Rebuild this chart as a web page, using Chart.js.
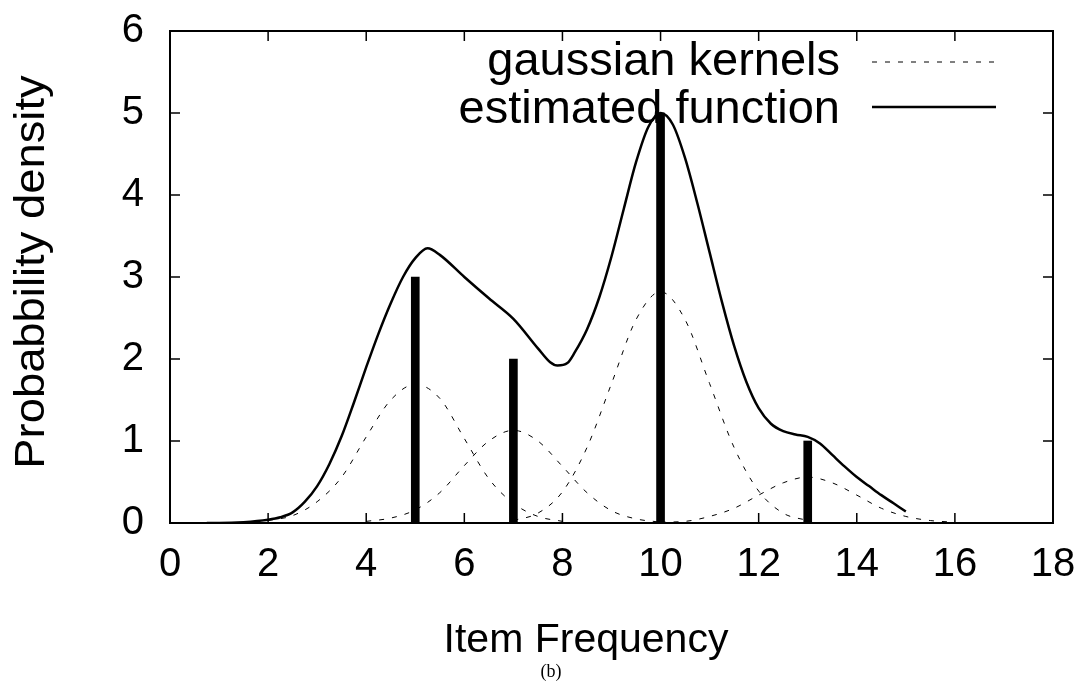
<!DOCTYPE html>
<html>
<head>
<meta charset="utf-8">
<script src="https://cdn.jsdelivr.net/npm/chart.js@4.4.1/dist/chart.umd.min.js"></script>
<style>
  html, body { margin: 0; padding: 0; background: #fff; }
</style>
</head>
<body>
<canvas id="grafico" width="1092" height="684"></canvas>
<script>
// dados
const freqItens = [5, 7, 10, 13];
const contagens = [3, 2, 5, 1];

const ticksX = [0, 2, 4, 6, 8, 10, 12, 14, 16, 18];
const ticksY = [0, 1, 2, 3, 4, 5, 6];

// kernels gaussianos (um por item)
const kernel1X = [2, 2.5, 3, 3.5, 4, 4.5, 5, 5.5, 6, 6.5, 7, 7.5, 8];
const kernel1Y = [0.03, 0.09, 0.26, 0.56, 1.05, 1.50, 1.69, 1.52, 1.03, 0.54, 0.24, 0.08, 0.02];
const kernel2X = [4, 4.5, 5, 5.5, 6, 6.5, 7, 7.5, 8, 8.5, 9, 9.5, 10];
const kernel2Y = [0.02, 0.06, 0.16, 0.37, 0.70, 1.00, 1.13, 1.00, 0.69, 0.37, 0.15, 0.05, 0.01];
const kernel3X = [7, 7.5, 8, 8.5, 9, 9.5, 10, 10.5, 11, 11.5, 12, 12.5, 13];
const kernel3Y = [0.03, 0.12, 0.38, 0.92, 1.70, 2.48, 2.82, 2.48, 1.70, 0.92, 0.39, 0.12, 0.03];
const kernel4X = [10, 10.5, 11, 11.5, 12, 12.5, 13, 13.5, 14, 14.5, 15, 15.5, 16];
const kernel4Y = [0.01, 0.02, 0.08, 0.18, 0.34, 0.49, 0.56, 0.49, 0.34, 0.18, 0.08, 0.03, 0.01];

// função estimada
const estimadaX = [0.75, 1, 1.5, 2, 2.25, 2.5, 2.75, 3, 3.25, 3.5, 3.75, 4, 4.25, 4.5, 4.75, 5, 5.25, 5.5, 6, 6.5, 7, 7.5, 7.75, 7.9, 8.1, 8.25, 8.5, 8.75, 9, 9.25, 9.5, 9.75, 10, 10.25, 10.5, 10.75, 11, 11.25, 11.5, 11.75, 12, 12.25, 12.5, 12.75, 13, 13.25, 13.5, 13.75, 14, 14.25, 14.5, 14.75, 15];
const estimadaY = [0.0, 0.0, 0.01, 0.04, 0.07, 0.13, 0.26, 0.45, 0.72, 1.06, 1.47, 1.90, 2.31, 2.68, 3.0, 3.23, 3.35, 3.27, 3.0, 2.74, 2.49, 2.13, 1.96, 1.92, 1.95, 2.08, 2.36, 2.75, 3.25, 3.83, 4.40, 4.83, 5.0, 4.86, 4.45, 3.90, 3.30, 2.70, 2.16, 1.72, 1.40, 1.21, 1.12, 1.08, 1.05, 0.97, 0.83, 0.69, 0.56, 0.45, 0.34, 0.24, 0.14];

const fonte = '"Liberation Sans", Arial, sans-serif';

function pontos(xs, ys) {
    return xs.map((x, i) => ({ x: x, y: ys[i] }));
}

function kernel(xs, ys) {
    return {
        type: 'scatter',
        showLine: true,
        data: pontos(xs, ys),
        borderColor: '#000',
        borderWidth: 1,
        borderDash: [5, 8],
        pointRadius: 0,
        cubicInterpolationMode: 'monotone',
        order: 3
    };
}

// moldura, ticks para dentro, legenda e títulos (estilo gnuplot)
const moldura = {
    id: 'moldura',
    afterDraw(chart) {
        const ctx = chart.ctx;
        const a = chart.chartArea;
        const sx = chart.scales.x;
        const sy = chart.scales.y;
        ctx.save();
        ctx.strokeStyle = '#000';
        ctx.lineWidth = 2;
        ctx.strokeRect(a.left, a.top, a.right - a.left, a.bottom - a.top);

        ctx.lineWidth = 1.5;
        ctx.beginPath();
        sx.ticks.forEach(t => {
            const px = sx.getPixelForValue(t.value);
            if (px < a.left + 2 || px > a.right - 2) return;
            ctx.moveTo(px, a.bottom); ctx.lineTo(px, a.bottom - 10);
            ctx.moveTo(px, a.top); ctx.lineTo(px, a.top + 10);
        });
        sy.ticks.forEach(t => {
            const py = sy.getPixelForValue(t.value);
            if (py < a.top + 2 || py > a.bottom - 2) return;
            ctx.moveTo(a.left, py); ctx.lineTo(a.left + 10, py);
            ctx.moveTo(a.right, py); ctx.lineTo(a.right - 10, py);
        });
        ctx.stroke();

        // legenda
        ctx.fillStyle = '#000';
        ctx.font = '47px ' + fonte;
        ctx.textAlign = 'right';
        ctx.textBaseline = 'alphabetic';
        ctx.fillText('gaussian kernels', 840, 75);
        ctx.fillText('estimated function', 840, 123);

        ctx.lineWidth = 1;
        ctx.setLineDash([5, 8]);
        ctx.beginPath();
        ctx.moveTo(872, 62); ctx.lineTo(994, 62);
        ctx.stroke();
        ctx.setLineDash([]);
        ctx.lineWidth = 2.5;
        ctx.beginPath();
        ctx.moveTo(872, 107); ctx.lineTo(996, 107);
        ctx.stroke();

        // títulos dos eixos
        ctx.textAlign = 'center';
        ctx.font = '41px ' + fonte;
        ctx.fillText('Item Frequency', 586, 652);

        ctx.save();
        ctx.translate(44, 272);
        ctx.rotate(-Math.PI / 2);
        ctx.scale(1.08, 1);
        ctx.font = '42px ' + fonte;
        ctx.fillText('Probabbility density', 0, 0);
        ctx.restore();

        ctx.font = '18px "Liberation Serif", "Times New Roman", serif';
        ctx.fillText('(b)', 551, 677);
        ctx.restore();
    }
};

const ctxGrafico = document.getElementById('grafico').getContext('2d');
const grafico = new Chart(ctxGrafico, {
    type: 'scatter',
    data: {
        datasets: [
            kernel(kernel1X, kernel1Y),
            kernel(kernel2X, kernel2Y),
            kernel(kernel3X, kernel3Y),
            kernel(kernel4X, kernel4Y),
            {
                type: 'scatter',
                showLine: true,
                data: pontos(estimadaX, estimadaY),
                borderColor: '#000',
                borderWidth: 2.5,
                pointRadius: 0,
                cubicInterpolationMode: 'monotone',
                order: 2
            },
            {
                type: 'bar',
                data: pontos(freqItens, contagens),
                backgroundColor: '#000',
                borderWidth: 0,
                barThickness: 8,
                grouped: false,
                order: 1
            }
        ]
    },
    options: {
        responsive: false,
        animation: false,
        devicePixelRatio: 1,
        layout: {
            padding: { top: 31, right: 39, left: 0, bottom: 0 }
        },
        scales: {
            x: {
                type: 'linear',
                min: 0,
                max: 18,
                offset: false,
                afterBuildTicks: (scale) => { scale.ticks = ticksX.map(v => ({ value: v })); },
                afterFit: (scale) => {
                    scale.height = 161;
                    scale.paddingLeft = 0;
                    scale.paddingRight = 0;
                },
                grid: { display: false },
                border: { display: false },
                ticks: {
                    color: '#000',
                    padding: 10,
                    maxRotation: 0,
                    font: { family: fonte, size: 40 }
                }
            },
            y: {
                type: 'linear',
                min: 0,
                max: 6,
                afterBuildTicks: (scale) => { scale.ticks = ticksY.map(v => ({ value: v })); },
                afterFit: (scale) => {
                    scale.width = 170;
                    scale.paddingTop = 0;
                    scale.paddingBottom = 0;
                },
                grid: { display: false },
                border: { display: false },
                ticks: {
                    color: '#000',
                    padding: 18,
                    font: { family: fonte, size: 40 }
                }
            }
        },
        plugins: {
            legend: { display: false },
            tooltip: { enabled: false }
        }
    },
    plugins: [moldura]
});
</script>
</body>
</html>
